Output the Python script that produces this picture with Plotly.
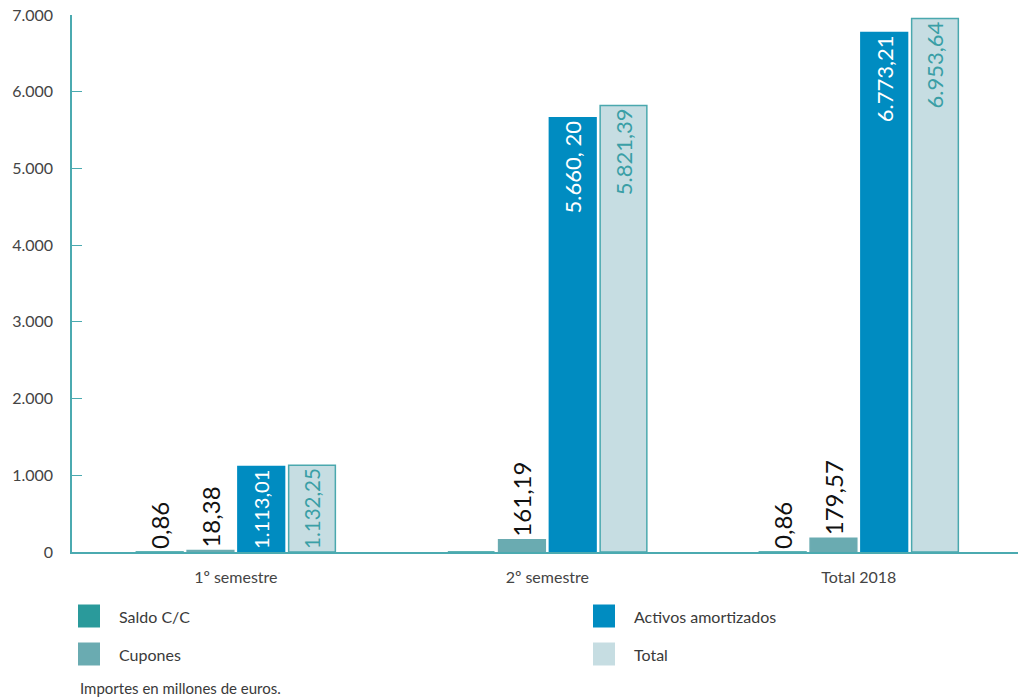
import plotly.graph_objects as go

categories = ["1º semestre", "2º semestre", "Total 2018"]
series_names = ["Saldo C/C", "Cupones", "Activos amortizados", "Total"]
saldo = [0.86, 0, 0.86]
cupones = [18.38, 161.19, 179.57]
activos = [1113.01, 5660.20, 6773.21]
total = [1132.25, 5821.39, 6953.64]
saldo_labels = ["0,86", "", "0,86"]
cupones_labels = ["18,38", "161,19", "179,57"]
activos_labels = ["1.113,01", "5.660, 20", "6.773,21"]
total_labels = ["1.132,25", "5.821,39", "6.953,64"]
y_ticks = [0, 1000, 2000, 3000, 4000, 5000, 6000, 7000]
footnote = "Importes en millones de euros."

colors = ["#2A9A9B", "#6AABB1", "#008CC1", "#C6DDE2"]
line_colors = ["#2A9A9B", "#6AABB1", "#008CC1", "#4AA8AE"]
text_colors = ["#111111", "#111111", "#ffffff", "#3A9FA6"]
text_sizes = [24, 24, 22, 22]
text_pos = ["outside", "outside", "inside", "inside"]
axis_color = "#4BAAB0"
FONT = "Lato, 'Open Sans', sans-serif"

values = [saldo, cupones, activos, total]
labels = [saldo_labels, cupones_labels, activos_labels, total_labels]

fig = go.Figure()
for i, name in enumerate(series_names):
    fig.add_trace(go.Bar(
        x=categories, y=values[i], name=name,
        text=labels[i], textposition=text_pos[i], textangle=-90,
        insidetextanchor="end",
        textfont=dict(family=FONT, size=text_sizes[i], color=text_colors[i]),
        marker=dict(color=colors[i], line=dict(color=line_colors[i], width=1.5)),
        showlegend=False, cliponaxis=False,
    ))

fig.update_layout(
    width=1018, height=698,
    margin=dict(l=72, r=0, t=15, b=146),
    paper_bgcolor="white", plot_bgcolor="white",
    barmode="group", bargap=0.348, bargroupgap=0.08,
    separators=",.",
    font=dict(family=FONT, size=16, color="#3a3a3a"),
)
fig.update_traces(constraintext="inside")
fig.update_xaxes(
    range=[-0.526, 2.511], showline=True, linecolor=axis_color, linewidth=1.5,
    ticks="", showgrid=False, zeroline=False,
    tickfont=dict(family=FONT, size=16, color="#444444"),
    ticklabelstandoff=10,
)
fig.update_yaxes(
    range=[0, 7000], tickvals=y_ticks, tickformat=",.0f",
    showline=True, linecolor=axis_color, linewidth=1.5,
    ticks="inside", ticklen=10, tickcolor=axis_color, tickwidth=1.2,
    showgrid=False, zeroline=False,
    tickfont=dict(family=FONT, size=16, color="#444444"),
    ticklabelstandoff=14,
)

# custom legend positioned in paper coordinates
W, H = 1018, 698
PL, PB, PT = 72, 552, 15
legend_pos = [(78, 616), (78, 654), (593, 616), (593, 654)]
for i, name in enumerate(series_names):
    x0, yc = legend_pos[i]
    fig.add_shape(type="rect", xref="paper", yref="paper",
                  x0=(x0 - PL) / (W - PL), x1=(x0 + 22 - PL) / (W - PL),
                  y0=-(yc + 11.5 - PB) / (PB - PT), y1=-(yc - 11.5 - PB) / (PB - PT),
                  fillcolor=colors[i], line=dict(width=0))
    fig.add_annotation(xref="paper", yref="paper",
                       x=(x0 + 39 - PL) / (W - PL), y=-(yc - PB) / (PB - PT),
                       text=name, showarrow=False, xanchor="left", yanchor="middle",
                       font=dict(family=FONT, size=16, color="#3a3a3a"))
fig.add_annotation(xref="paper", yref="paper",
                   x=(78 - PL) / (W - PL), y=-(688 - PB) / (PB - PT),
                   text=footnote, showarrow=False, xanchor="left", yanchor="middle",
                   font=dict(family=FONT, size=15, color="#3a3a3a"))

fig.write_html("out.html")
